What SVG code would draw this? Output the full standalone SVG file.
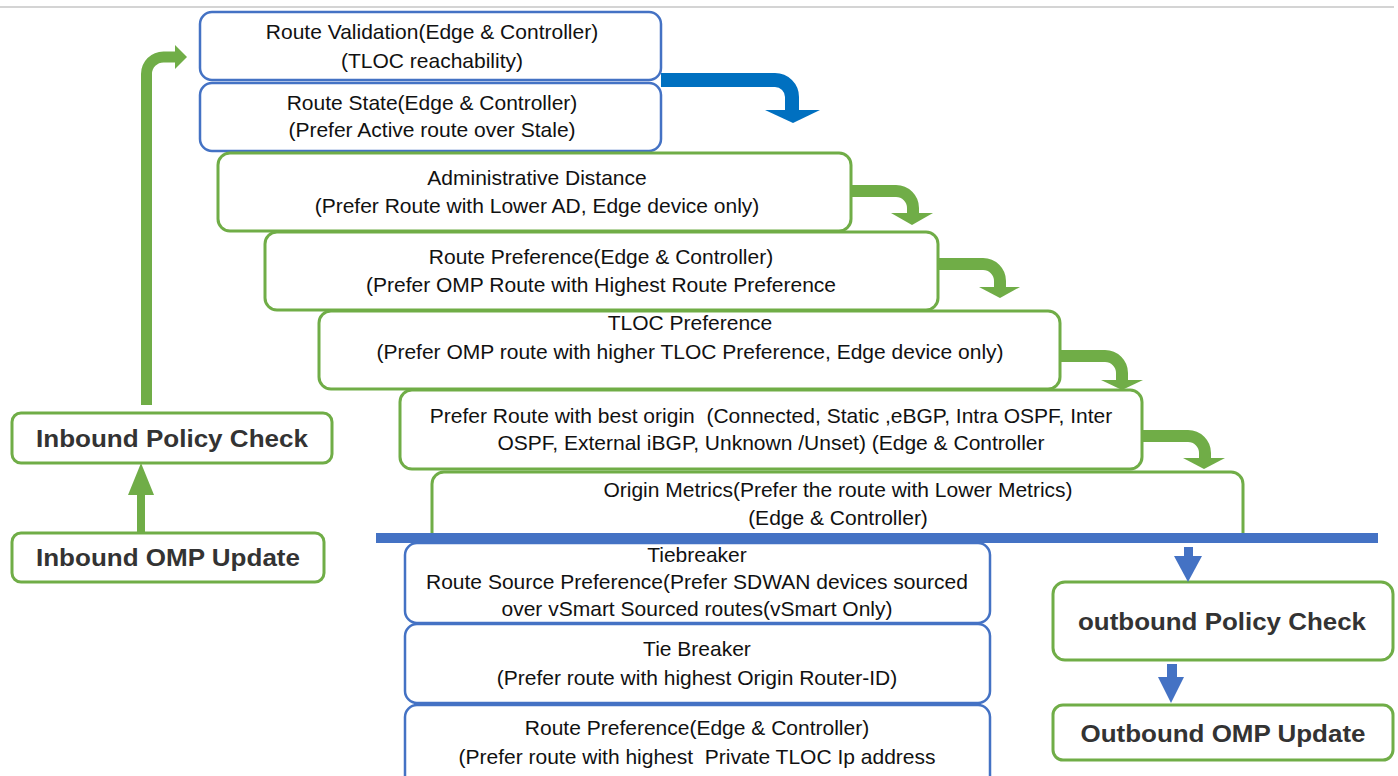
<svg xmlns="http://www.w3.org/2000/svg" width="1398" height="776" viewBox="0 0 1398 776">
<style>
.bb{fill:#fff;stroke:#4472C4;stroke-width:2.5}
.gb{fill:#fff;stroke:#70AD47;stroke-width:3}
.t{font-family:"Liberation Sans",Arial,sans-serif;font-size:21px;fill:#111;text-anchor:middle}
.b{font-family:"Liberation Sans",Arial,sans-serif;font-size:23px;font-weight:bold;fill:#333;text-anchor:middle}
.gs{fill:none;stroke:#70AD47}
.gh{fill:#70AD47}
.bs{fill:none;stroke:#0070C0}
.bh{fill:#0070C0}
.lb{fill:#4472C4}
</style>
<rect x="0" y="0" width="1398" height="776" fill="#fff"/>
<line x1="0" y1="7" x2="1394" y2="7" stroke="#d4d4d4" stroke-width="2"/>

<g id="n1"><rect class="bb" x="200" y="12" width="461" height="68" rx="12"/>
<text class="t" x="432" y="39">Route Validation(Edge &amp; Controller)</text>
<text class="t" x="432" y="68">(TLOC reachability)</text></g>
<g id="n2"><rect class="bb" x="200" y="83" width="461" height="68" rx="12"/>
<text class="t" x="432" y="110">Route State(Edge &amp; Controller)</text>
<text class="t" x="432" y="137">(Prefer Active route over Stale)</text></g>
<g id="n3"><rect class="gb" x="218" y="153" width="633" height="78" rx="12"/>
<text class="t" x="537" y="185">Administrative Distance</text>
<text class="t" x="537" y="213">(Prefer Route with Lower AD, Edge device only)</text></g>
<g id="n4"><rect class="gb" x="265" y="232" width="673" height="78" rx="12"/>
<text class="t" x="601" y="264">Route Preference(Edge &amp; Controller)</text>
<text class="t" x="601" y="292">(Prefer OMP Route with Highest Route Preference</text></g>
<g id="n5"><rect class="gb" x="319" y="311" width="741" height="78" rx="12"/>
<text class="t" x="690" y="330">TLOC Preference</text>
<text class="t" x="690" y="359">(Prefer OMP route with higher TLOC Preference, Edge device only)</text></g>
<g id="n6"><rect class="gb" x="400" y="390" width="742" height="79" rx="12"/>
<text class="t" x="771" y="423" xml:space="preserve">Prefer Route with best origin  (Connected, Static ,eBGP, Intra OSPF, Inter</text>
<text class="t" x="771" y="450">OSPF, External iBGP, Unknown /Unset) (Edge &amp; Controller</text></g>
<g id="n7"><path class="gb" d="M432,540 V484 A12,12 0 0 1 444,472 H1231 A12,12 0 0 1 1243,484 V540"/>
<text class="t" x="838" y="497">Origin Metrics(Prefer the route with Lower Metrics)</text>
<text class="t" x="838" y="525">(Edge &amp; Controller)</text></g>
<g id="n8"><rect class="bb" x="405" y="543" width="585" height="80" rx="12"/>
<text class="t" x="697" y="562">Tiebreaker</text>
<text class="t" x="697" y="589">Route Source Preference(Prefer SDWAN devices sourced</text>
<text class="t" x="697" y="616">over vSmart Sourced routes(vSmart Only)</text></g>
<g id="n9"><rect class="bb" x="405" y="624" width="585" height="79" rx="12"/>
<text class="t" x="697" y="656">Tie Breaker</text>
<text class="t" x="697" y="685">(Prefer route with highest Origin Router-ID)</text></g>
<g id="n10"><rect class="bb" x="405" y="705" width="585" height="90" rx="12"/>
<text class="t" x="697" y="735">Route Preference(Edge &amp; Controller)</text>
<text class="t" x="697" y="764" xml:space="preserve">(Prefer route with highest  Private TLOC Ip address</text></g>

<g id="inpol"><rect class="gb" x="12" y="413" width="320" height="50" rx="9"/>
<text class="b" x="172" y="447" textLength="272" lengthAdjust="spacingAndGlyphs">Inbound Policy Check</text></g>
<g id="inomp"><rect class="gb" x="12" y="533" width="312" height="49" rx="9"/>
<text class="b" x="168" y="566" textLength="264" lengthAdjust="spacingAndGlyphs">Inbound OMP Update</text></g>
<g id="outpol"><rect class="gb" x="1053" y="582" width="340" height="78" rx="12"/>
<text class="b" x="1222" y="630" textLength="288" lengthAdjust="spacingAndGlyphs">outbound Policy Check</text></g>
<g id="outomp"><rect class="gb" x="1053" y="705" width="340" height="55" rx="10"/>
<text class="b" x="1223" y="742" textLength="285" lengthAdjust="spacingAndGlyphs">Outbound OMP Update</text></g>

<g id="connectors">
<rect class="lb" x="376" y="533" width="1002" height="10"/>
<path class="gs" stroke-width="11" d="M146.5,405 V74 A17,17 0 0 1 163.5,57 H176"/>
<polygon class="gh" points="175,45 187,57 175,69"/>
<line x1="141" y1="533" x2="141" y2="494" stroke="#70AD47" stroke-width="8"/>
<polygon class="gh" points="128,495 154,495 141,463"/>
<path class="bs" stroke-width="14" d="M661,80 H775 A17,17 0 0 1 792,97 V111"/>
<polygon class="bh" points="765,110 820,110 793,123"/>
<path class="gs" stroke-width="12" d="M851,191 H896 A17,17 0 0 1 913,208 V214"/>
<polygon class="gh" points="891,213 933,213 912,225"/>
<path class="gs" stroke-width="12" d="M938,264 H983 A17,17 0 0 1 1000,281 V288"/>
<polygon class="gh" points="979,287 1020,287 1000,298"/>
<path class="gs" stroke-width="12" d="M1060,356 H1105 A17,17 0 0 1 1122,373 V381"/>
<polygon class="gh" points="1101,380 1143,380 1122,390"/>
<path class="gs" stroke-width="12" d="M1142,436 H1188 A17,17 0 0 1 1205,453 V459"/>
<polygon class="gh" points="1183,458 1225,458 1204,469"/>
<rect class="lb" x="1184" y="547" width="9" height="10"/>
<polygon class="lb" points="1174,556 1202,556 1188,582"/>
<rect class="lb" x="1167" y="664" width="10" height="14"/>
<polygon class="lb" points="1158,677 1184,677 1171,703"/>
</g>
</svg>
